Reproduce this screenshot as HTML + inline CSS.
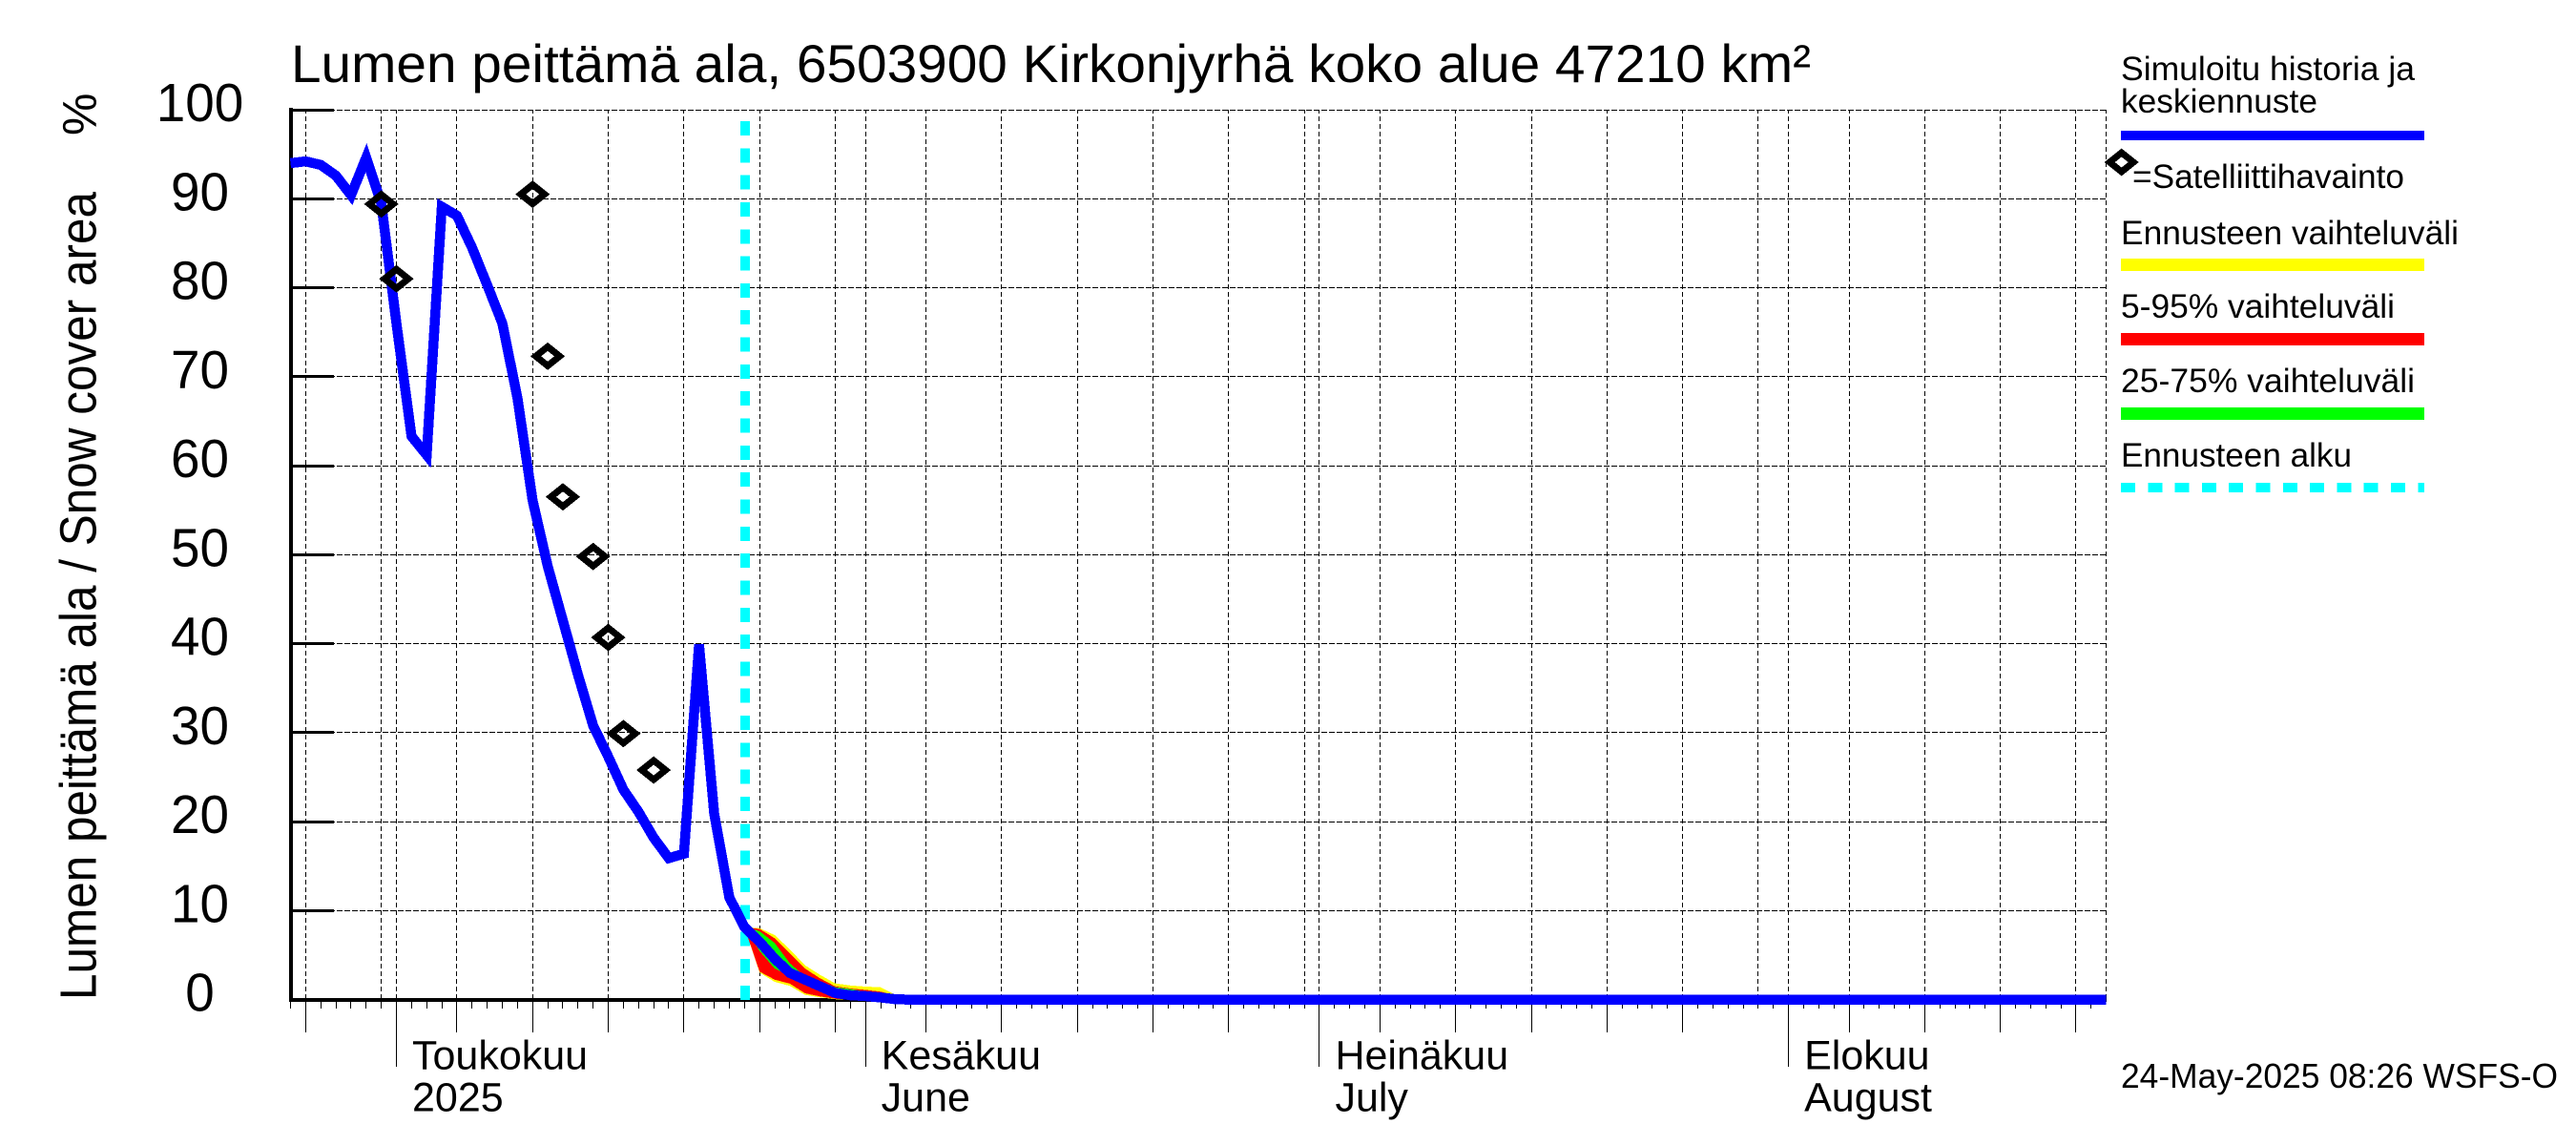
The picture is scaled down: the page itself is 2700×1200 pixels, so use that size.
<!DOCTYPE html>
<html lang="fi">
<head>
<meta charset="utf-8">
<title>Lumen peittämä ala</title>
<style>
html,body{margin:0;padding:0;background:#fff;}
svg{display:block;}
text{font-family:"Liberation Sans",sans-serif;fill:#000;}
line,polyline,polygon,rect{shape-rendering:crispEdges;}
</style>
</head>
<body>
<svg id="chart" xmlns="http://www.w3.org/2000/svg" width="2700" height="1200" viewBox="0 0 2700 1200">
  <rect x="0" y="0" width="2700" height="1200" fill="#fff"/>
  <g id="grid"></g>
  <g id="xticks"></g>
  <g id="yticks"></g>
  <g id="ylabels" font-size="57" text-anchor="middle"></g>
  <g id="xlabels" font-size="43"></g>
  <rect x="303" y="113" width="4" height="937" fill="#000"/>
  <rect x="303" y="1046" width="1905" height="4" fill="#000"/>
  <g id="series"></g>
  <g id="sat"></g>

  <text x="305" y="86" font-size="55.7" textLength="1593" lengthAdjust="spacingAndGlyphs">Lumen peittämä ala, 6503900 Kirkonjyrhä koko alue 47210 km²</text>
  <text transform="translate(100.5,1048) rotate(-90)" font-size="54" textLength="847" lengthAdjust="spacingAndGlyphs">Lumen peittämä ala / Snow cover area</text>
  <text transform="translate(100.5,142) rotate(-90)" font-size="50">%</text>

  <g font-size="35">
    <text x="2223" y="84" textLength="308" lengthAdjust="spacingAndGlyphs">Simuloitu historia ja</text>
    <text x="2223" y="118" textLength="206" lengthAdjust="spacingAndGlyphs">keskiennuste</text>
    <rect x="2223" y="137" width="318" height="10" fill="#0000ff"/>
    <polygon points="2211.2,170 2223.7,160 2236.2,170 2223.7,180" fill="none" stroke="#000" stroke-width="7"/>
    <text x="2235" y="197" textLength="285" lengthAdjust="spacingAndGlyphs">=Satelliittihavainto</text>
    <text x="2223" y="256" textLength="354" lengthAdjust="spacingAndGlyphs">Ennusteen vaihteluväli</text>
    <rect x="2223" y="271" width="318" height="13" fill="#ffff00"/>
    <text x="2223" y="333" textLength="287" lengthAdjust="spacingAndGlyphs">5-95% vaihteluväli</text>
    <rect x="2223" y="349" width="318" height="13" fill="#ff0000"/>
    <text x="2223" y="411" textLength="308" lengthAdjust="spacingAndGlyphs">25-75% vaihteluväli</text>
    <rect x="2223" y="427" width="318" height="13" fill="#00ff00"/>
    <text x="2223" y="489" textLength="242" lengthAdjust="spacingAndGlyphs">Ennusteen alku</text>
    <line x1="2223" y1="511" x2="2541" y2="511" stroke="#00ffff" stroke-width="10" stroke-dasharray="15 13.3"/>
  </g>
  <text x="2223" y="1140" font-size="36" textLength="458" lengthAdjust="spacingAndGlyphs">24-May-2025 08:26 WSFS-O</text>
</svg>
<script>
// Day numbers count from 1 May 2025 (day 0). Plot spans 24 Apr to 22 Aug.
const firstDay = -7;
const lastDay = 113;
const forecastStartDay = 23;
const yTickValues = [0, 10, 20, 30, 40, 50, 60, 70, 80, 90, 100];
const labelledGridDays = [-6, -1, 0, 4, 9, 14, 19, 24, 29, 31, 35, 40, 45, 50, 55, 60, 61, 65, 70, 75, 80, 85, 90, 92, 96, 101, 106, 111, 113];
const majorTickDays = [-6, 4, 9, 14, 19, 24, 29, 35, 40, 45, 50, 55, 65, 70, 75, 80, 85, 96, 101, 106, 111];
const monthTickDays = [0, 31, 61, 92];
const monthNamesFi = ["Toukokuu", "Kesäkuu", "Heinäkuu", "Elokuu"];
const monthNamesEn = ["2025", "June", "July", "August"];

// Simulated history + median forecast, daily from firstDay.
const medianValues = [
  94.0, 94.2, 93.8, 92.6, 90.4, 94.6, 89.5, 76.0, 63.3, 61.2, 89.1, 88.1, 84.5, 80.3, 76.0, 67.6,
  56.1, 48.7, 42.6, 36.5, 30.8, 27.3, 23.6, 21.1, 18.2, 15.9, 16.4, 39.9, 20.9, 11.5, 8.15,
  6.5, 4.6, 3.0, 2.25, 1.5, 0.75, 0.5, 0.4, 0.25, 0.05,
  0,0,0,0,0,0,0,0,0,0,0,0,0,0,0,0,0,0,0,0,
  0,0,0,0,0,0,0,0,0,0,0,0,0,0,0,0,0,0,0,0,
  0,0,0,0,0,0,0,0,0,0,0,0,0,0,0,0,0,0,0,0,
  0,0,0,0,0,0,0,0,0,0,0,0,0,0,0,0,0,0,0,0
];

// Forecast bands, daily from forecastStartDay.
const rangeUpper = [8.15, 8.04, 7.26, 5.65, 3.87, 2.79, 1.83, 1.6, 1.47, 1.4, 0.54, 0];
const rangeLower = [8.15, 3.04, 2.0, 1.55, 0.54, 0.26, 0.05, 0, 0, 0, 0, 0];
const p95Values  = [8.15, 7.95, 6.9, 5.2, 3.5, 2.4, 1.5, 1.25, 1.1, 0.9, 0.5, 0];
const p5Values   = [8.15, 3.15, 2.25, 1.8, 0.72, 0.36, 0.1, 0, 0, 0, 0, 0];
const p75Values  = [8.15, 7.7, 6.37, 4.1, 2.6, 2.1, 1.4, 1.2, 0.9, 0.5, 0.1, 0];
const p25Values  = [8.15, 5.47, 3.5, 2.7, 1.9, 1.1, 0.3, 0.1, 0, 0, 0, 0];

const satelliteDays = [-1, 0, 9, 10, 11, 13, 14, 15, 17];
const satelliteValues = [89.4, 81.0, 90.5, 72.3, 56.5, 49.8, 40.7, 29.9, 25.8];

const NS = "http://www.w3.org/2000/svg";
function xScale(day) { return 415.5 + 15.86 * day; }
function yScale(value) { return 1047.7 - 9.327 * value; }
function px(v) { return Math.floor(v) + 0.5; }
function make(tag, attrs, parent) {
  const el = document.createElementNS(NS, tag);
  for (const k in attrs) el.setAttribute(k, attrs[k]);
  parent.appendChild(el);
  return el;
}

const grid = document.getElementById("grid");
const xticks = document.getElementById("xticks");
const yticks = document.getElementById("yticks");
const ylabels = document.getElementById("ylabels");
const xlabels = document.getElementById("xlabels");
const series = document.getElementById("series");
const sat = document.getElementById("sat");

yTickValues.forEach(function (v) {
  const y = yScale(v);
  if (v > 0) {
    const g = make("line", {x1: 305, y1: px(y), x2: xScale(lastDay), y2: px(y), stroke: "#000", "stroke-width": 1, "stroke-dasharray": "6 2"}, grid);
    
    
    const t = make("line", {x1: 305, y1: px(y), x2: 350, y2: px(y), stroke: "#000", "stroke-width": 3}, yticks);
    
    
  }
  const lab = make("text", {x: 209.5, y: y + 12, textLength: String(v).length * 30.5, lengthAdjust: "spacingAndGlyphs"}, ylabels);
  lab.textContent = String(v);
  
  
});

labelledGridDays.forEach(function (d) {
  const x = px(xScale(d));
  const g = make("line", {x1: x, y1: 1047, x2: x, y2: 115, stroke: "#000", "stroke-width": 1, "stroke-dasharray": "5 3"}, grid);
  
  
});

for (let d = firstDay; d <= lastDay - 1; d++) {
  const x = px(xScale(d));
  const t = make("line", {x1: x, y1: 1048, x2: x, y2: 1057, stroke: "#000", "stroke-width": 1}, xticks);
  
  
}
majorTickDays.forEach(function (d) {
  const x = px(xScale(d));
  const t = make("line", {x1: x, y1: 1048, x2: x, y2: 1082, stroke: "#000", "stroke-width": 1}, xticks);
  
  
});
monthTickDays.forEach(function (d, i) {
  const x = xScale(d);
  const t = make("line", {x1: px(x), y1: 1048, x2: px(x), y2: 1118, stroke: "#000", "stroke-width": 1}, xticks);
  
  
  const a = make("text", {x: x + 16.5, y: 1120.5}, xlabels);
  a.textContent = monthNamesFi[i];
  
  
  const b = make("text", {x: x + 16.5, y: 1164.5}, xlabels);
  b.textContent = monthNamesEn[i];
  
  
});

const startX = xScale(forecastStartDay);
const startLine = make("line", {x1: startX + 0.7, y1: 127, x2: startX + 0.7, y2: 1048, stroke: "#00ffff", "stroke-width": 10, "stroke-dasharray": "15 13.32"}, series);



function bandPoints(upper, lower) {
  const pts = [];
  upper.forEach(function (v, i) { pts.push(xScale(forecastStartDay + i) + "," + yScale(v)); });
  for (let i = lower.length - 1; i >= 0; i--) pts.push(xScale(forecastStartDay + i) + "," + yScale(lower[i]));
  return pts.join(" ");
}
const bandRange = make("polygon", {points: bandPoints(rangeUpper, rangeLower), fill: "#ffff00"}, series);


const band90 = make("polygon", {points: bandPoints(p95Values, p5Values), fill: "#ff0000"}, series);


const band50 = make("polygon", {points: bandPoints(p75Values, p25Values), fill: "#00ff00"}, series);



const medianPts = medianValues.map(function (v, i) { return xScale(firstDay + i) + "," + yScale(v); }).join(" ");
const medianLine = make("polyline", {points: medianPts, fill: "none", stroke: "#0000ff", "stroke-width": 10.5, "stroke-linejoin": "miter", "stroke-miterlimit": 4}, series);



satelliteDays.forEach(function (d, i) {
  const cx = xScale(d);
  const cy = yScale(satelliteValues[i]);
  const p = [(cx - 12.5) + "," + cy, cx + "," + (cy - 10), (cx + 12.5) + "," + cy, cx + "," + (cy + 10)].join(" ");
  const m = make("polygon", {points: p, fill: "none", stroke: "#000", "stroke-width": 7}, sat);
  
  
});
</script>
</body>
</html>
